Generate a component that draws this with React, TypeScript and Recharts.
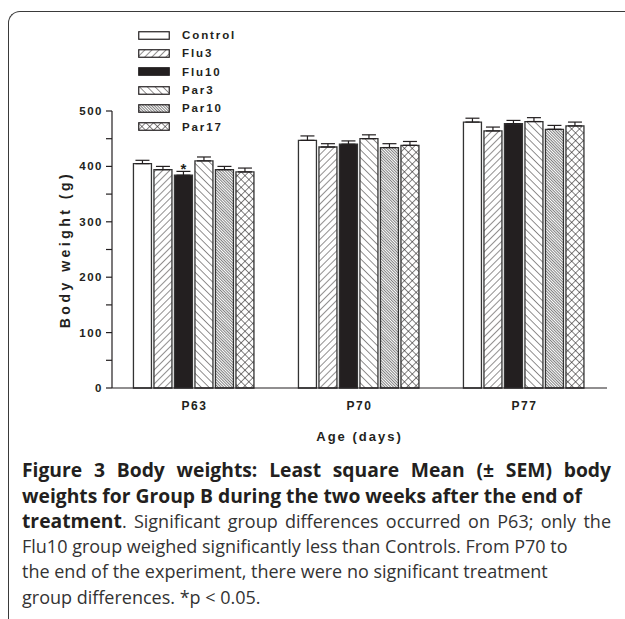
import React from 'react';
import { BarChart, Bar, XAxis, YAxis, ErrorBar, LabelList } from 'recharts';

// Least square means (g), one value per age
const AGES = ['P63', 'P70', 'P77'];
const CONTROL = [405, 447, 480];
const CONTROL_SEM = [6, 8, 7];
const FLU3 = [394, 435, 464];
const FLU3_SEM = [6, 6, 7];
const FLU10 = [384, 440, 477];
const FLU10_SEM = [7, 6, 6];
const PAR3 = [410, 450, 481];
const PAR3_SEM = [7, 7, 7];
const PAR10 = [394, 434, 467];
const PAR10_SEM = [6, 7, 7];
const PAR17 = [390, 438, 473];
const PAR17_SEM = [7, 7, 7];
const FLU10_SIG = ['*', '', ''];
const Y_TICKS = [0, 50, 100, 150, 200, 250, 300, 350, 400, 450, 500];

const SERIES = [
    { key: 'control', name: 'Control', values: CONTROL, sem: CONTROL_SEM, fill: '#ffffff' },
    { key: 'flu3', name: 'Flu3', values: FLU3, sem: FLU3_SEM, fill: 'url(#pat-flu3)' },
    { key: 'flu10', name: 'Flu10', values: FLU10, sem: FLU10_SEM, fill: '#231f20' },
    { key: 'par3', name: 'Par3', values: PAR3, sem: PAR3_SEM, fill: 'url(#pat-par3)' },
    { key: 'par10', name: 'Par10', values: PAR10, sem: PAR10_SEM, fill: 'url(#pat-par10)' },
    { key: 'par17', name: 'Par17', values: PAR17, sem: PAR17_SEM, fill: 'url(#pat-par17)' },
];

// upward-only error bars: [below, above]
const data = AGES.map((age, i) => {
    const row: any = { age, flu10Sig: FLU10_SIG[i] };
    SERIES.forEach(s => {
        row[s.key] = s.values[i];
        row[s.key + 'Err'] = [0, s.sem[i]];
    });
    return row;
});

const AXIS_FONT = '"Liberation Sans", Arial, sans-serif';
const INK = '#231f20';

const Patterns = () => (
    <defs>
        <pattern id="pat-flu3" patternUnits="userSpaceOnUse" width="5" height="5" patternTransform="rotate(45)">
            <rect width="5" height="5" fill="#fff" />
            <line x1="0" y1="0" x2="0" y2="5" stroke={INK} strokeWidth="1" />
        </pattern>
        <pattern id="pat-par3" patternUnits="userSpaceOnUse" width="5.5" height="5.5" patternTransform="rotate(-45)">
            <rect width="5.5" height="5.5" fill="#fff" />
            <line x1="0" y1="0" x2="0" y2="5.5" stroke={INK} strokeWidth="1" />
        </pattern>
        <pattern id="pat-par10" patternUnits="userSpaceOnUse" width="2" height="2" patternTransform="rotate(-45)">
            <rect width="2" height="2" fill="#fff" />
            <line x1="0" y1="0" x2="0" y2="2" stroke="#2a2a2a" strokeWidth="1.2" />
        </pattern>
        <pattern id="pat-par17" patternUnits="userSpaceOnUse" width="5.5" height="5.5" patternTransform="rotate(45)">
            <rect width="5.5" height="5.5" fill="#fff" />
            <line x1="0" y1="0" x2="0" y2="5.5" stroke={INK} strokeWidth="1.1" />
            <line x1="0" y1="0" x2="5.5" y2="0" stroke={INK} strokeWidth="1.1" />
        </pattern>
    </defs>
);

const YTick = (props: any) => {
    const { x, y, payload } = props;
    if (payload.value % 100 !== 0) return <g />;
    return (
        <text x={x} y={y} dy={4} textAnchor="end" fontFamily={AXIS_FONT} fontWeight="bold"
            fontSize={11.5} letterSpacing={1.5} fill={INK}>
            {payload.value}
        </text>
    );
};

const Legend = () => (
    <div style={{ position: 'absolute', left: 138, top: 26 }}>
        {SERIES.map(s => (
            <div key={s.key} style={{ height: 18.3, display: 'flex', alignItems: 'center' }}>
                <svg width={32} height={9} style={{ display: 'block' }}>
                    <rect x={0.75} y={0.75} width={30.5} height={7.5} fill={s.fill} stroke={INK} strokeWidth={1.2} />
                </svg>
                <span style={{
                    marginLeft: 12, fontFamily: AXIS_FONT, fontWeight: 'bold', fontSize: 11.5,
                    letterSpacing: 1.9, color: INK, lineHeight: '12px'
                }}>{s.name}</span>
            </div>
        ))}
    </div>
);

const lineBase: React.CSSProperties = { width: 589, height: 25.5, whiteSpace: 'nowrap' };
const justified: React.CSSProperties = { ...lineBase, textAlign: 'justify', textAlignLast: 'justify' };
const bold: React.CSSProperties = { fontWeight: 'bold', fontSize: 19.3, color: '#231f20' };

const Caption = () => (
    <div style={{
        position: 'absolute', left: 22, top: 457, fontFamily: '"Open Sans", sans-serif',
        fontSize: 18, lineHeight: '25.5px', color: '#333'
    }}>
        <div style={{ ...justified, whiteSpace: 'normal' }}><span style={bold}>Figure 3 Body weights: Least square Mean (± SEM) body</span></div>
        <div style={lineBase}><span style={bold}>weights for Group B during the two weeks after the end of</span></div>
        <div style={{ ...justified, whiteSpace: 'normal' }}><span style={bold}>treatment</span>. Significant group differences occurred on P63; only the</div>
        <div style={lineBase}>Flu10 group weighed significantly less than Controls. From P70 to</div>
        <div style={lineBase}>the end of the experiment, there were no significant treatment</div>
        <div style={lineBase}>group differences. *p &lt; 0.05.</div>
    </div>
);

const App: React.FC = () => {
    return (
        <div style={{ position: 'absolute', left: 0, top: 0, width: 625, height: 619, background: '#fff', overflow: 'hidden' }}>
            <div style={{
                position: 'absolute', left: 8, top: 11, width: 640, height: 640,
                borderTop: '1.5px solid #3a3a3a', borderLeft: '1.5px solid #3a3a3a', borderTopLeftRadius: 12
            }} />
            <div style={{ position: 'absolute', left: 0, top: 0 }}>
                <BarChart width={625} height={450} data={data}
                    margin={{ top: 111, right: 18, bottom: 6, left: 52 }}
                    barCategoryGap="13%" barGap={2.5}>
                    <Patterns />
                    <XAxis dataKey="age" tickLine={false} tickMargin={7} height={56}
                        axisLine={{ stroke: INK, strokeWidth: 1.2 }}
                        tick={{ fontFamily: AXIS_FONT, fontWeight: 'bold', fontSize: 12, letterSpacing: 1.5, fill: INK }}
                        label={{
                            value: 'Age (days)', position: 'insideBottom', offset: 3,
                            style: { fontFamily: AXIS_FONT, fontWeight: 'bold', fontSize: 13, letterSpacing: 2, fill: INK }
                        }} />
                    <YAxis width={60} domain={[0, 500]} ticks={Y_TICKS} interval={0} tickSize={6} tickMargin={3}
                        axisLine={{ stroke: INK, strokeWidth: 1.2 }} tickLine={{ stroke: INK, strokeWidth: 1.2 }}
                        tick={<YTick />}
                        label={{
                            value: 'Body weight (g)', angle: -90, position: 'insideLeft', offset: 13,
                            style: { textAnchor: 'middle', fontFamily: AXIS_FONT, fontWeight: 'bold', fontSize: 14, letterSpacing: 3.5, fill: INK }
                        }} />
                    {SERIES.map(s => (
                        <Bar key={s.key} dataKey={s.key} name={s.name} fill={s.fill}
                            stroke="#333" strokeWidth={1.3} isAnimationActive={false}>
                            <ErrorBar dataKey={s.key + 'Err'} direction="y" width={7} stroke={INK} strokeWidth={1.2} />
                            {s.key === 'flu10' && (
                                <LabelList dataKey="flu10Sig" position="top" offset={1}
                                    style={{ fontFamily: AXIS_FONT, fontWeight: 'bold', fontSize: 15, fill: INK }} />
                            )}
                        </Bar>
                    ))}
                </BarChart>
            </div>
            <Legend />
            <Caption />
        </div>
    );
};

export default App;
